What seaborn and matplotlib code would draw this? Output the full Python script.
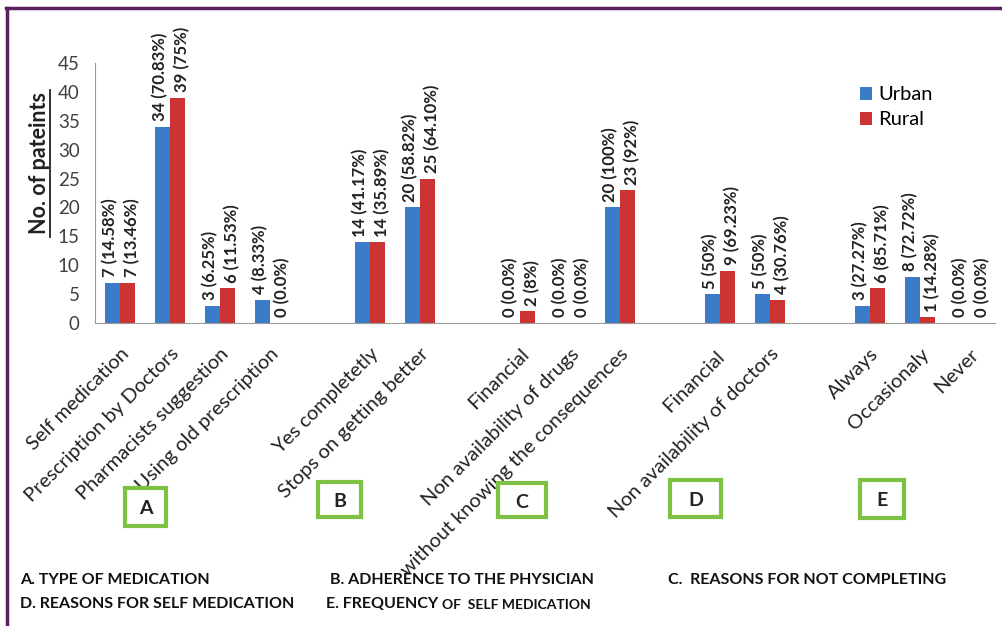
import numpy as np
import pandas as pd
import seaborn as sns
import matplotlib.pyplot as plt
from matplotlib.patches import Rectangle
from matplotlib.lines import Line2D

# Категории по группам (A-E), между группами пустые места
group_a = ['Self medication', 'Prescription by Doctors', 'Pharmacists suggestion', 'Using old prescription']
group_b = ['Yes completetly', 'Stops on getting better']
group_c = ['Financial', 'Non availability of drugs', 'without knowing the consequences']
group_d = ['Financial ', 'Non availability of doctors']
group_e = ['Always', 'Occasionaly', 'Never']

categories = group_a + group_b + group_c + group_d + group_e
urban = [7, 34, 3, 4, 14, 20, 0, 0, 20, 5, 5, 3, 8, 0]
rural = [7, 39, 6, 0, 14, 25, 2, 0, 23, 9, 4, 6, 1, 0]
urban_pct = ['14.58%', '70.83%', '6.25%', '8.33%', '41.17%', '58.82%', '0.0%', '0.0%',
             '100%', '50%', '50%', '27.27%', '72.72%', '0.0%']
rural_pct = ['13.46%', '75%', '11.53%', '0.0%', '35.89%', '64.10%', '8%', '0.0%',
             '92%', '69.23%', '30.76%', '85.71%', '14.28%', '0.0%']

group_letters = ['A', 'B', 'C', 'D', 'E']
footnotes = ['A. TYPE OF MEDICATION', 'B. ADHERENCE TO THE PHYSICIAN', 'C.  REASONS FOR NOT COMPLETING',
             'D. REASONS FOR SELF MEDICATION', 'E. FREQUENCY']

# порядок по оси x с пустыми местами
order = group_a + [' '] + group_b + ['  '] + group_c + ['   '] + group_d + ['    '] + group_e

df = pd.DataFrame({
    'category': categories * 2,
    'area': ['Urban'] * len(categories) + ['Rural'] * len(categories),
    'count': urban + rural,
})
labels = {'Urban': dict(zip(categories, zip(urban, urban_pct))),
          'Rural': dict(zip(categories, zip(rural, rural_pct)))}

W, H = 1003, 626
fig = plt.figure(figsize=(W / 100, H / 100), dpi=100)
font = ['Lato', 'DejaVu Sans']
plt.rcParams['font.family'] = font

def px(x, y):
    return x / W, 1 - y / H

ax = fig.add_axes([95 / W, 1 - 323 / H, 900 / W, 260 / H])
sns.barplot(data=df, x='category', y='count', hue='area', order=order, hue_order=['Urban', 'Rural'],
            palette={'Urban': '#3a7cc8', 'Rural': '#cc3333'}, width=0.6, ax=ax,
            edgecolor='none', saturation=1)

ax.set_ylim(0, 45)
ax.set_yticks(range(0, 50, 5))
ax.set_xlim(-0.5, len(order) - 0.5)
ax.tick_params(axis='y', length=0, pad=11, labelsize=13.5, labelcolor='#404040')
ax.tick_params(axis='x', length=0, pad=16)
ax.set_xticks(range(len(order)))
ax.set_xticklabels(order, rotation=45, ha='right', rotation_mode='anchor', fontsize=14.5, color='#222222')
ax.set_xlabel('')
ax.set_ylabel('')
for s in ['top', 'right']:
    ax.spines[s].set_visible(False)
ax.spines['left'].set_color('#9a9a9a')
ax.spines['bottom'].set_color('#9a9a9a')

# подписи над столбцами (сдвиг в точках, чтобы не слипались)
shift = {'Urban': -1.5, 'Rural': 3}
for container, area in zip(ax.containers, ['Urban', 'Rural']):
    for bar in container:
        idx = int(round(bar.get_x() + bar.get_width() / 2))
        name = order[idx]
        val, pct = labels[area][name]
        ax.annotate(f'{val} ({pct})', (bar.get_x() + bar.get_width() / 2, bar.get_height()),
                    xytext=(shift[area], 4), textcoords='offset points',
                    rotation=90, ha='center', va='bottom', fontsize=12, fontweight='bold', color='#222222')

leg = ax.legend(loc='upper left', bbox_to_anchor=(0.83, 0.98), frameon=False, fontsize=14.5,
                handlelength=0.6, handleheight=0.6, handletextpad=0.3, labelspacing=0.4)

# подпись оси y с подчёркиванием
fig.text(*px(40, 163), 'No. of pateints', rotation=90, ha='center', va='center', fontsize=15.5,
         fontweight='bold', color='#222222')
fig.add_artist(Line2D([50 / W, 50 / W], [1 - 90 / H, 1 - 237 / H], color='#222222', lw=1.3))

# зелёные рамки с буквами
boxes = [(125, 488, 41, 38), (318, 482, 43, 35), (498, 483, 48, 34), (670, 480, 51, 37), (860, 480, 44, 38)]
for (x, y, w, h), letter in zip(boxes, group_letters):
    fig.add_artist(Rectangle(px(x, y + h), w / W, h / H, transform=fig.transFigure,
                             fill=False, ec='#7dc242', lw=3))
    fig.text(*px(x + w / 2, y + h / 2 + 2), letter, ha='center', va='center', fontsize=14,
             fontweight='bold', color='#222222')

# пояснения внизу
fs = 11.5
fig.text(*px(20, 580), footnotes[0], ha='left', va='center', fontsize=fs, fontweight='bold', color='#111111')
fig.text(*px(330, 580), footnotes[1], ha='left', va='center', fontsize=fs, fontweight='bold', color='#111111')
fig.text(*px(668, 580), footnotes[2], ha='left', va='center', fontsize=fs, fontweight='bold', color='#111111')
fig.text(*px(20, 604), footnotes[3], ha='left', va='center', fontsize=fs, fontweight='bold', color='#111111')
fig.text(*px(326, 604), footnotes[4], ha='left', va='center', fontsize=fs, fontweight='bold', color='#111111')
fig.text(*px(442, 605), 'OF  SELF MEDICATION', ha='left', va='center', fontsize=10, fontweight='bold',
         color='#111111')

# рамка (верх и лево)
fig.add_artist(Line2D([6 / W, 1], [1 - 8 / H, 1 - 8 / H], color='#5a1f5e', lw=2.5))
fig.add_artist(Line2D([7 / W, 7 / W], [1 - 8 / H, 0], color='#5a1f5e', lw=2.5))

fig.savefig('out.png', dpi=100)
